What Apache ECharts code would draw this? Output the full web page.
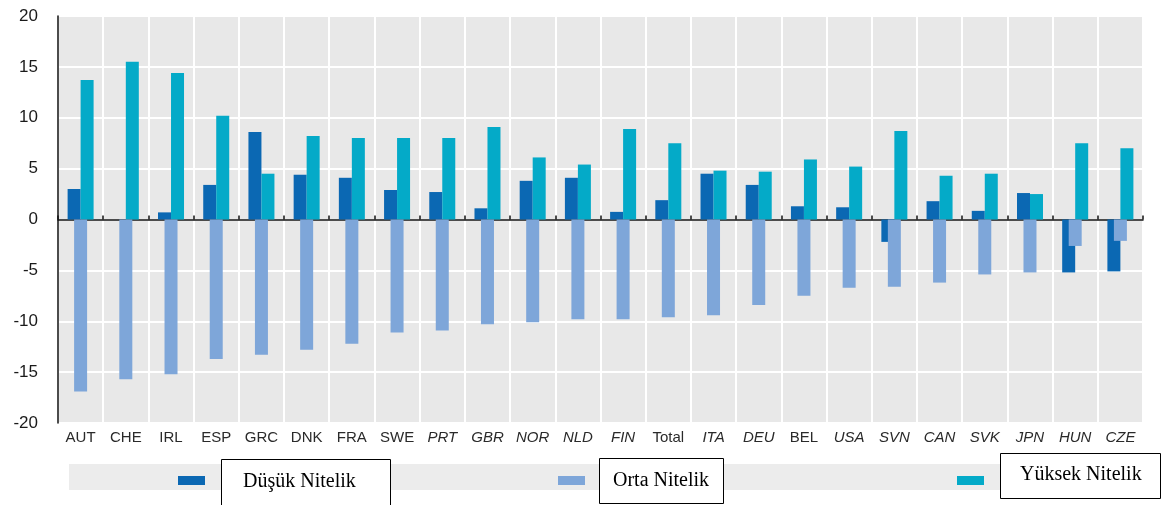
<!DOCTYPE html>
<html>
<head>
<meta charset="utf-8">
<script src="https://cdn.jsdelivr.net/npm/echarts@6/dist/echarts.min.js"></script>
<style>
html,body{margin:0;padding:0;background:#fff;}
#chart{width:1161px;height:505px;}
</style>
</head>
<body>
<div id="chart"></div>
<script>
const categories = ['AUT','CHE','IRL','ESP','GRC','DNK','FRA','SWE','PRT','GBR','NOR','NLD','FIN','Total','ITA','DEU','BEL','USA','SVN','CAN','SVK','JPN','HUN','CZE'];
const italicCats = ['PRT','GBR','NOR','NLD','FIN','ITA','DEU','USA','SVN','CAN','SVK','JPN','HUN','CZE'];
const lowSkill  = [3.0, 0, 0.7, 3.4, 8.6, 4.4, 4.1, 2.9, 2.7, 1.1, 3.8, 4.1, 0.75, 1.9, 4.5, 3.4, 1.3, 1.2, -2.2, 1.8, 0.85, 2.6, -5.2, -5.1];
const midSkill  = [-16.9, -15.7, -15.2, -13.7, -13.3, -12.8, -12.2, -11.1, -10.9, -10.3, -10.1, -9.8, -9.8, -9.6, -9.4, -8.4, -7.5, -6.7, -6.6, -6.2, -5.4, -5.2, -2.6, -2.1];
const highSkill = [13.7, 15.5, 14.4, 10.2, 4.5, 8.2, 8.0, 8.0, 8.0, 9.1, 6.1, 5.4, 8.9, 7.5, 4.8, 4.7, 5.9, 5.2, 8.7, 4.3, 4.5, 2.5, 7.5, 7.0];
const seriesNames = ['Düşük Nitelik','Orta Nitelik','Yüksek Nitelik'];
const colors = ['#0b68b3','#7ea6d9','#04aac8'];

const chart = echarts.init(document.getElementById('chart'), null, {renderer:'canvas'});
const GL = 58, GT = 16, GW = 1085, GH = 407;
const boxFont = '20px "Liberation Serif", "Times New Roman", serif';

const option = {
  animation: false,
  backgroundColor: '#ffffff',
  grid: {left: GL, top: GT, width: GW, height: GH, show: true, backgroundColor: '#e8e8e8', borderWidth: 0},
  xAxis: [
    {
      type: 'category', data: categories, position: 'bottom',
      axisLine: {show: true, onZero: true, lineStyle: {color: '#111', width: 1.5}},
      axisTick: {show: true, inside: true, length: 4, lineStyle: {color: '#111', width: 1.5}},
      axisLabel: {show: false},
      splitLine: {show: false}
    },
    {
      type: 'category', data: categories, position: 'bottom',
      axisLine: {show: false, onZero: false},
      axisTick: {show: false},
      splitLine: {show: true, lineStyle: {color: '#ffffff', width: 2}},
      axisLabel: {
        show: true, margin: 7, interval: 0,
        formatter: function (v) { return italicCats.indexOf(v) >= 0 ? '{i|' + v + '}' : '{n|' + v + '}'; },
        rich: {
          n: {fontFamily: 'Liberation Sans, Arial, sans-serif', fontSize: 15, color: '#2a2a2a'},
          i: {fontFamily: 'Liberation Sans, Arial, sans-serif', fontSize: 15, color: '#2a2a2a', fontStyle: 'italic'}
        }
      }
    }
  ],
  yAxis: {
    type: 'value', min: -20, max: 20, interval: 5,
    axisLine: {show: true, lineStyle: {color: '#111', width: 1.5}},
    axisTick: {show: false},
    splitLine: {show: true, lineStyle: {color: '#ffffff', width: 2}},
    axisLabel: {margin: 20, fontFamily: 'Liberation Sans, Arial, sans-serif', fontSize: 17, color: '#1a1a1a'}
  },
  series: [
    {name: seriesNames[0], type: 'bar', xAxisIndex: 0, data: lowSkill, barWidth: 13, barGap: '-50%', itemStyle: {color: colors[0]}, z: 2},
    {name: seriesNames[1], type: 'bar', xAxisIndex: 0, data: midSkill, barWidth: 13, barGap: '-50%', itemStyle: {color: colors[1]}, z: 3},
    {name: seriesNames[2], type: 'bar', xAxisIndex: 0, data: highSkill, barWidth: 13, barGap: '-50%', itemStyle: {color: colors[2]}, z: 2}
  ],
  graphic: [
    {type: 'rect', left: 69, top: 464, z: 1, shape: {width: 1092, height: 26}, style: {fill: '#ececec'}},
    {type: 'rect', left: 178, top: 476, z: 2, shape: {width: 27, height: 9}, style: {fill: colors[0]}},
    {type: 'rect', left: 558, top: 476, z: 2, shape: {width: 27, height: 9}, style: {fill: colors[1]}},
    {type: 'rect', left: 957, top: 476, z: 2, shape: {width: 27, height: 9}, style: {fill: colors[2]}},
    {type: 'rect', left: 221, top: 459, z: 10, shape: {width: 169, height: 46}, style: {fill: '#fff', stroke: '#000', lineWidth: 1}},
    {type: 'text', left: 243, top: 472, z: 11, style: {text: seriesNames[0], font: boxFont, fill: '#000'}},
    {type: 'rect', left: 599, top: 458, z: 10, shape: {width: 124, height: 45}, style: {fill: '#fff', stroke: '#000', lineWidth: 1}},
    {type: 'text', left: 613, top: 471, z: 11, style: {text: seriesNames[1], font: boxFont, fill: '#000'}},
    {type: 'rect', left: 1000, top: 453, z: 10, shape: {width: 160, height: 45}, style: {fill: '#fff', stroke: '#000', lineWidth: 1}},
    {type: 'text', left: 1020, top: 465, z: 11, style: {text: seriesNames[2], font: boxFont, fill: '#000'}}
  ]
};
chart.setOption(option);
</script>
</body>
</html>
